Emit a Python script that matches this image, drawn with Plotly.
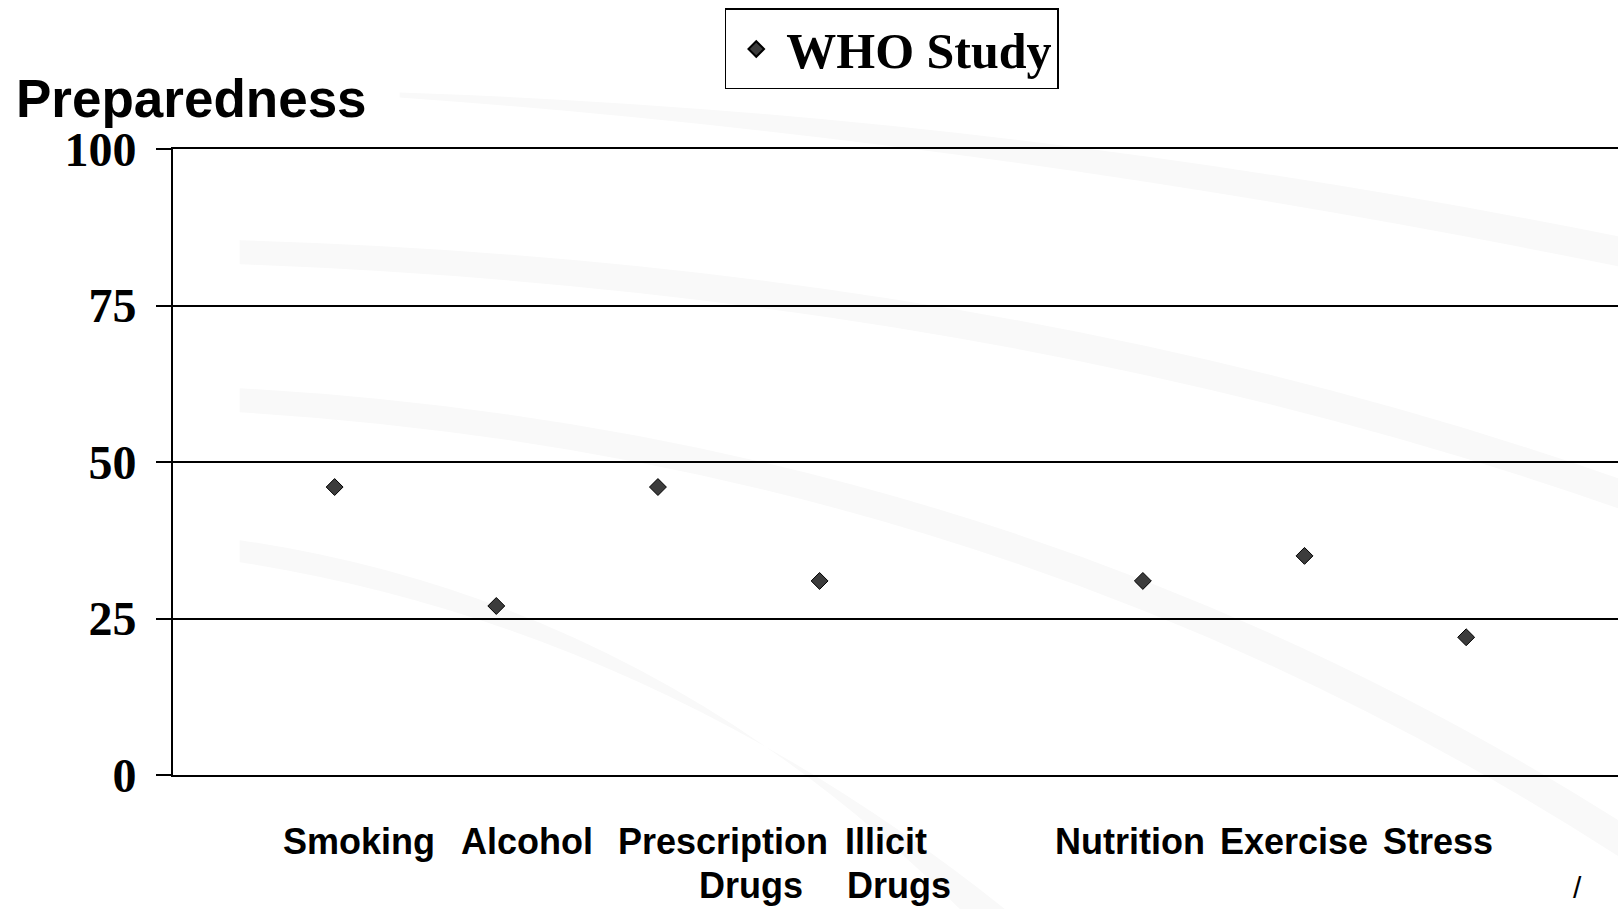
import plotly.graph_objects as go

# ---- data -------------------------------------------------------------
# one slot is intentionally left empty between the drug and lifestyle groups
categories = ["Smoking", "Alcohol", "Prescription Drugs", "Illicit Drugs", None,
              "Nutrition", "Exercise", "Stress"]
preparedness = [46, 27, 46, 31, None, 31, 35, 22]
y_ticks = [0, 25, 50, 75, 100]
series_name = "WHO Study"
y_title = "Preparedness"

# ---- page geometry (pixels) -------------------------------------------
W, H = 1618, 909
PL, PR, PT, PB = 173.4, 1618.0, 148.6, 775.0   # plot-area edges


def px(x):
    return (x - PL) / (PR - PL)


def py(y):
    return (PB - y) / (PB - PT)


slots = list(range(1, len(categories) + 1))

fig = go.Figure()
fig.add_trace(go.Scatter(
    x=slots,
    y=preparedness,
    mode="markers",
    name=series_name,
    marker=dict(symbol="diamond", size=13, color="#3c3c3c",
                line=dict(color="#000000", width=1)),
    showlegend=True,
))

# faint decorative swooshes in the background
swooshes = [
    [(400, 92), (1000, 112), (1618, 236), (1618, 266), (1000, 140), (400, 97)],
    [(240, 240), (1000, 262), (1618, 478), (1618, 508), (1000, 292), (240, 264)],
    [(240, 388), (1000, 430), (1618, 820), (1618, 856), (1000, 458), (240, 412)],
    [(240, 540), (650, 600), (960, 909), (1005, 909), (650, 626), (240, 562)],
]
shapes = []
for s in swooshes:
    (x0, y0), (c0x, c0y), (x1, y1), (x2, y2), (c1x, c1y), (x3, y3) = s
    path = (f"M {px(x0)},{py(y0)} Q {px(c0x)},{py(c0y)} {px(x1)},{py(y1)} "
            f"L {px(x2)},{py(y2)} Q {px(c1x)},{py(c1y)} {px(x3)},{py(y3)} Z")
    shapes.append(dict(type="path", xref="paper", yref="paper", path=path,
                       fillcolor="#f9f9f9", line=dict(width=0), layer="below"))

annotations = [
    dict(text=y_title, xref="paper", yref="paper", x=px(14), y=py(98),
         xanchor="left", yanchor="middle", showarrow=False,
         font=dict(family="Liberation Sans, Arial", size=53, color="black",
                   weight="bold")),
    dict(text="/", xref="paper", yref="paper", x=px(1578), y=py(888),
         xanchor="center", yanchor="middle", showarrow=False,
         font=dict(family="Liberation Sans, Arial", size=30, color="black")),
]

# category labels under the axis, laid out as a text block
label_left = {"Smoking": 281, "Alcohol": 459, "Prescription": 616, "Illicit": 843,
              "Nutrition": 1053, "Exercise": 1218, "Stress": 1381}
second_line_left = {"Prescription": 697, "Illicit": 845}
label_font = dict(family="Liberation Sans, Arial", size=36, color="black",
                  weight="bold")
for cat in categories:
    if cat is None:
        continue
    words = cat.split(" ")
    first = words[0]
    annotations.append(dict(
        text=first, xref="paper", yref="paper", x=px(label_left[first]), y=py(842),
        xanchor="left", yanchor="middle", showarrow=False, font=label_font))
    if len(words) > 1:
        annotations.append(dict(
            text=" ".join(words[1:]), xref="paper", yref="paper",
            x=px(second_line_left[first]), y=py(886),
            xanchor="left", yanchor="middle", showarrow=False, font=label_font))

fig.update_layout(
    width=W, height=H,
    margin=dict(l=PL, r=W - PR, t=PT, b=H - PB, pad=0),
    paper_bgcolor="white",
    plot_bgcolor="rgba(0,0,0,0)",
    showlegend=True,
    legend=dict(
        x=px(725), y=py(8), xanchor="left", yanchor="top",
        bgcolor="white", bordercolor="black", borderwidth=1.5,
        font=dict(family="Liberation Serif, Times New Roman", size=50,
                  color="black", weight="bold"),
        itemsizing="constant", itemwidth=50,
    ),
    xaxis=dict(
        range=[0, (PR - PL) / 161.6], showgrid=False, zeroline=False,
        showline=True, mirror=True, linecolor="black", linewidth=2,
        showticklabels=False, ticks="",
        fixedrange=True,
    ),
    yaxis=dict(
        range=[0, 100], tickvals=y_ticks, ticktext=[str(v) for v in y_ticks],
        showgrid=True, gridcolor="black", gridwidth=2,
        zeroline=False, showline=True, linecolor="black", linewidth=2,
        ticks="outside", ticklen=15, tickwidth=2, tickcolor="black",
        ticklabelstandoff=10,
        tickfont=dict(family="Liberation Serif, Times New Roman", size=48,
                      color="black", weight="bold"),
        fixedrange=True,
    ),
    shapes=shapes,
    annotations=annotations,
)

fig.write_html("out.html")
